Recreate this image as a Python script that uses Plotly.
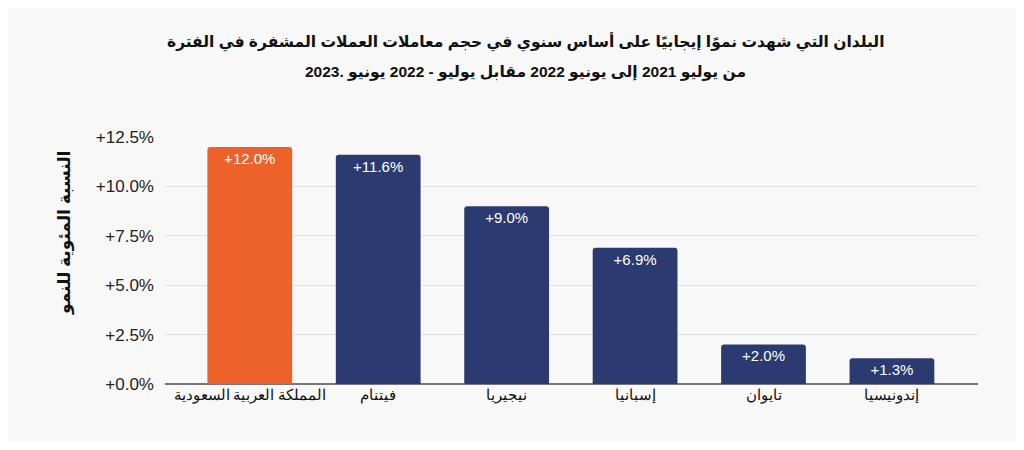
import plotly.graph_objects as go

categories = ["المملكة العربية السعودية", "فيتنام", "نيجيريا", "إسبانيا", "تايوان", "إندونيسيا"]
values = [12.0, 11.6, 9.0, 6.9, 2.0, 1.3]
labels = ["+12.0%", "+11.6%", "+9.0%", "+6.9%", "+2.0%", "+1.3%"]
colors = ["#ec622a", "#2c3a72", "#2c3a72", "#2c3a72", "#2c3a72", "#2c3a72"]
tick_vals = [0, 2.5, 5, 7.5, 10, 12.5]
tick_text = ["+0.0%", "+2.5%", "+5.0%", "+7.5%", "+10.0%", "+12.5%"]

title_lines = ["البلدان التي شهدت نموًا إيجابيًا على أساس سنوي في حجم معاملات العملات المشفرة في الفترة",
               "من يوليو 2021 إلى يونيو 2022 مقابل يوليو - 2022 يونيو .2023"]
y_title = "<b>النسبة المئوية للنمو</b>"

W, H = 1008, 434
L, R, T, B = 157, 38, 129, 58

fig = go.Figure(go.Bar(
    x=list(range(len(categories))),
    y=values,
    width=0.66,
    marker=dict(color=colors, cornerradius=3, line=dict(width=0)),
    text=labels,
    textposition="inside",
    insidetextanchor="end",
    textfont=dict(color="white", size=15, family="Liberation Sans, Arial, sans-serif"),
    hoverinfo="skip",
))

fig.update_layout(
    width=W, height=H,
    paper_bgcolor="#f8f8f8", plot_bgcolor="#f8f8f8",
    margin=dict(l=L, r=R, t=T, b=B),
    showlegend=False,
    font=dict(family="Liberation Sans, Arial, DejaVu Sans, sans-serif", color="#222222"),
    uniformtext=dict(mode="show", minsize=15),
)

plot_h = H - T - B
for i, line in enumerate(title_lines):
    ypix = 34 + 30 * i
    fig.add_annotation(
        text="<b>" + line + "</b>", xref="paper", yref="paper",
        x=(517 - L) / (W - L - R), xanchor="center",
        y=(H - B - ypix) / plot_h, yanchor="middle",
        showarrow=False,
        font=dict(size=15.5, color="#111111", family="Liberation Sans, Arial, DejaVu Sans, sans-serif"),
    )

fig.add_annotation(
    text=y_title, textangle=-90, xref="paper", yref="paper",
    x=-(L - 57) / (W - L - R), xanchor="center",
    y=(376 - 225) / plot_h, yanchor="middle",
    showarrow=False, font=dict(size=17, color="#111111"),
)

fig.update_xaxes(
    range=[-0.66, 5.67],
    tickvals=list(range(len(categories))),
    ticktext=categories,
    tickfont=dict(size=15, color="#111111", family="Liberation Serif, Times New Roman, DejaVu Serif, serif"),
    showgrid=False, zeroline=False, showline=False,
    ticks="",
)

fig.update_yaxes(
    range=[0, 12.5],
    tickvals=tick_vals,
    ticktext=tick_text,
    tickfont=dict(size=17, color="#222222"),
    showgrid=True, gridcolor="#e0e0e0", gridwidth=1,
    zeroline=True, zerolinecolor="#777777", zerolinewidth=2,
    ticks="", ticklabelstandoff=10,
)

fig.write_html("out.html")
